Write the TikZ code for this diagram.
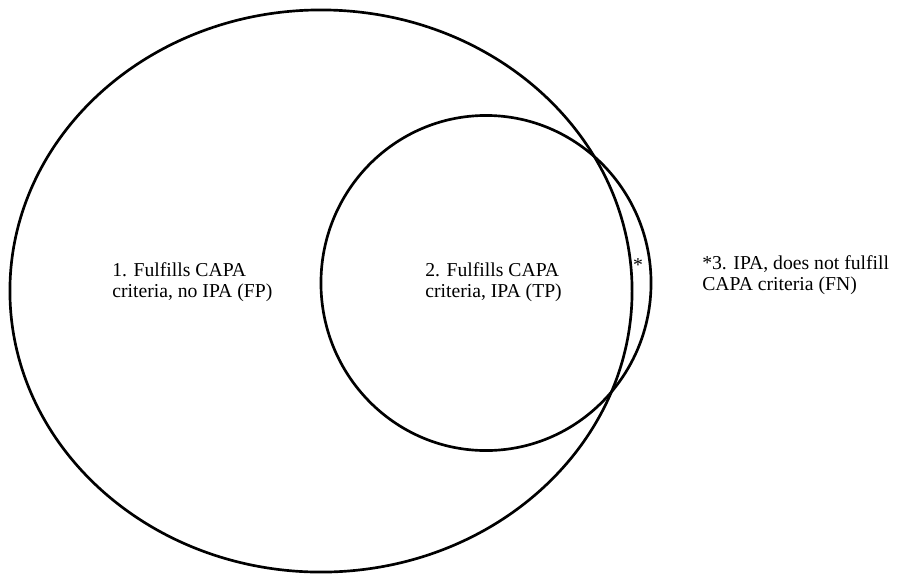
\documentclass[tikz,border=0pt]{standalone}
\usepackage{fontspec}
\setmainfont{Liberation Serif}
\usetikzlibrary{shapes.geometric,positioning}
\tikzset{
    setshape/.style = {draw, ellipse, line width=1.9pt, inner sep=0pt, outer sep=0pt},
    desc/.style = {align=left, inner sep=0pt, font=\fontsize{14}{15}\selectfont},
    mark star/.style = {inner sep=0pt, font=\fontsize{14}{15}\selectfont}
}
\begin{document}
\begin{tikzpicture}[x=0.025cm, y=-0.025cm]
    \useasboundingbox (0,0) rectangle (900,574);
    % the two sets
    \node [setshape, minimum width=15.55cm, minimum height=14.05cm] (capa) at (321,291) {};
    \node [setshape, minimum width=8.25cm, minimum height=8.375cm] (ipa) at (486,283) {};
    % region texts
    \node [desc, anchor=north west] (fp) at (112,262) {1. Fulfills CAPA\\criteria, no IPA (FP)};
    \node [desc, anchor=north west] (tp) at (425,262) {2. Fulfills CAPA\\criteria, IPA (TP)};
    \node [mark star] (star) at (638,265) {*};
    \node [desc, anchor=north west] (fn) at (702,255) {*3. IPA, does not fulfill\\CAPA criteria (FN)};
\end{tikzpicture}
\end{document}
